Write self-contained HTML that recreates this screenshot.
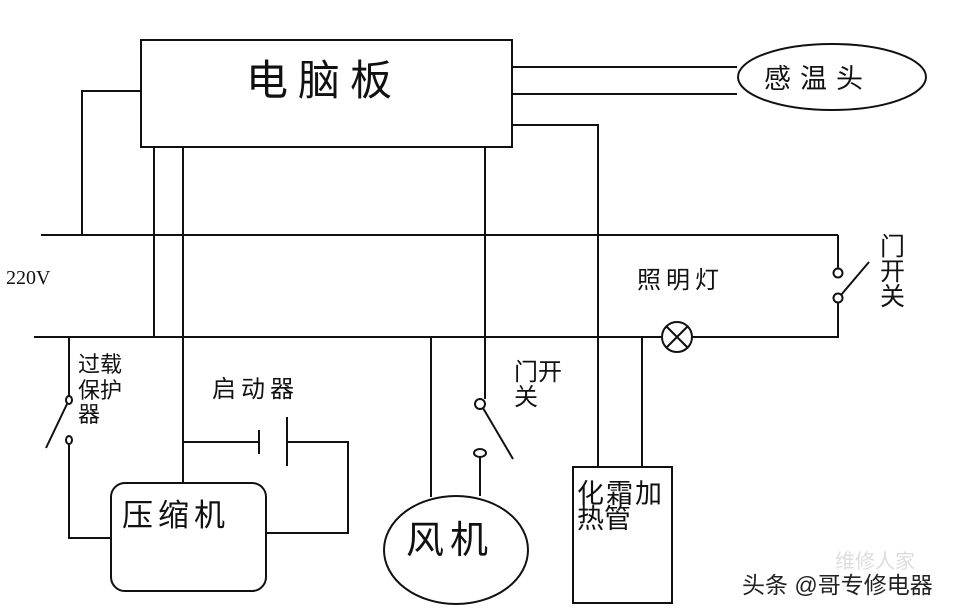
<!DOCTYPE html>
<html><head><meta charset="utf-8"><style>
html,body{margin:0;padding:0;background:#fff;width:962px;height:614px;overflow:hidden}
svg text{font-family:"Liberation Sans","Noto Sans CJK SC",sans-serif;fill:#111}
</style></head><body>
<svg width="962" height="614" viewBox="0 0 962 614" xmlns="http://www.w3.org/2000/svg">
<g stroke="#111" stroke-width="2" fill="none">
<rect x="141" y="40" width="371" height="107"/>
<line x1="512" y1="67" x2="737" y2="67"/>
<line x1="512" y1="94" x2="737" y2="94"/>
<ellipse cx="832" cy="77" rx="94" ry="33"/>
<polyline points="141,91 82,91 82,235"/>
<line x1="41" y1="235" x2="838" y2="235"/>
<polyline points="838,235 838,268"/>
<circle cx="838" cy="273" r="4.5"/>
<circle cx="838" cy="298" r="4.5"/>
<line x1="841" y1="295" x2="869" y2="262"/>
<polyline points="838,302 838,337 692,337"/>
<line x1="34" y1="337" x2="662" y2="337"/>
<circle cx="677" cy="337" r="15"/>
<line x1="666" y1="326" x2="688" y2="348"/>
<line x1="666" y1="348" x2="688" y2="326"/>
<line x1="154" y1="147" x2="154" y2="337"/>
<line x1="183" y1="147" x2="183" y2="483"/>
<line x1="485" y1="147" x2="485" y2="399"/>
<polyline points="512,125 598,125 598,467"/>
<line x1="642" y1="337" x2="642" y2="467"/>
<rect x="573" y="467" width="99" height="136"/>
<line x1="431" y1="337" x2="431" y2="497"/>
<ellipse cx="456" cy="550" rx="72" ry="54"/>
<circle cx="480" cy="404" r="5"/>
<line x1="483" y1="408" x2="513" y2="459"/>
<ellipse cx="480" cy="453" rx="6" ry="4"/>
<line x1="480" y1="457" x2="480" y2="496"/>
<line x1="69" y1="337" x2="69" y2="396"/>
<ellipse cx="69" cy="400" rx="3" ry="4"/>
<line x1="67" y1="404" x2="46" y2="448"/>
<ellipse cx="69" cy="440" rx="3" ry="4"/>
<polyline points="69,444 69,538 111,538"/>
<rect x="111" y="483" width="155" height="108" rx="14"/>
<polyline points="183,442 259,442"/>
<line x1="259" y1="430" x2="259" y2="454"/>
<line x1="287" y1="417" x2="287" y2="466"/>
<polyline points="287,442 348,442 348,533 266,533"/>
</g>
<text x="246" y="95" font-size="42" letter-spacing="10">电脑板</text>
<text x="764" y="88" font-size="27" letter-spacing="9">感温头</text>
<text x="6" y="284" font-size="20" style="font-family:'Liberation Serif',serif">220V</text>
<text x="637" y="288" font-size="24" letter-spacing="5">照明灯</text>
<text x="880" y="255" font-size="25">门</text>
<text x="880" y="280" font-size="25">开</text>
<text x="880" y="305" font-size="25">关</text>
<text x="78" y="372" font-size="22">过载</text>
<text x="78" y="398" font-size="22">保护</text>
<text x="78" y="422" font-size="22">器</text>
<text x="212" y="397" font-size="24" letter-spacing="5">启动器</text>
<text x="122" y="526" font-size="31" letter-spacing="5">压缩机</text>
<text x="406" y="553" font-size="38" letter-spacing="6">风机</text>
<text x="514" y="380" font-size="24">门开</text>
<text x="514" y="405" font-size="24">关</text>
<text x="577" y="503" font-size="27" letter-spacing="2">化霜加</text>
<text x="577" y="528" font-size="27">热管</text>
<text x="835" y="568" font-size="20" style="fill:#ddd">维修人家</text>
<text x="742" y="593" font-size="23" style="fill:#222">头条 @哥专修电器</text>
</svg>
</body></html>
